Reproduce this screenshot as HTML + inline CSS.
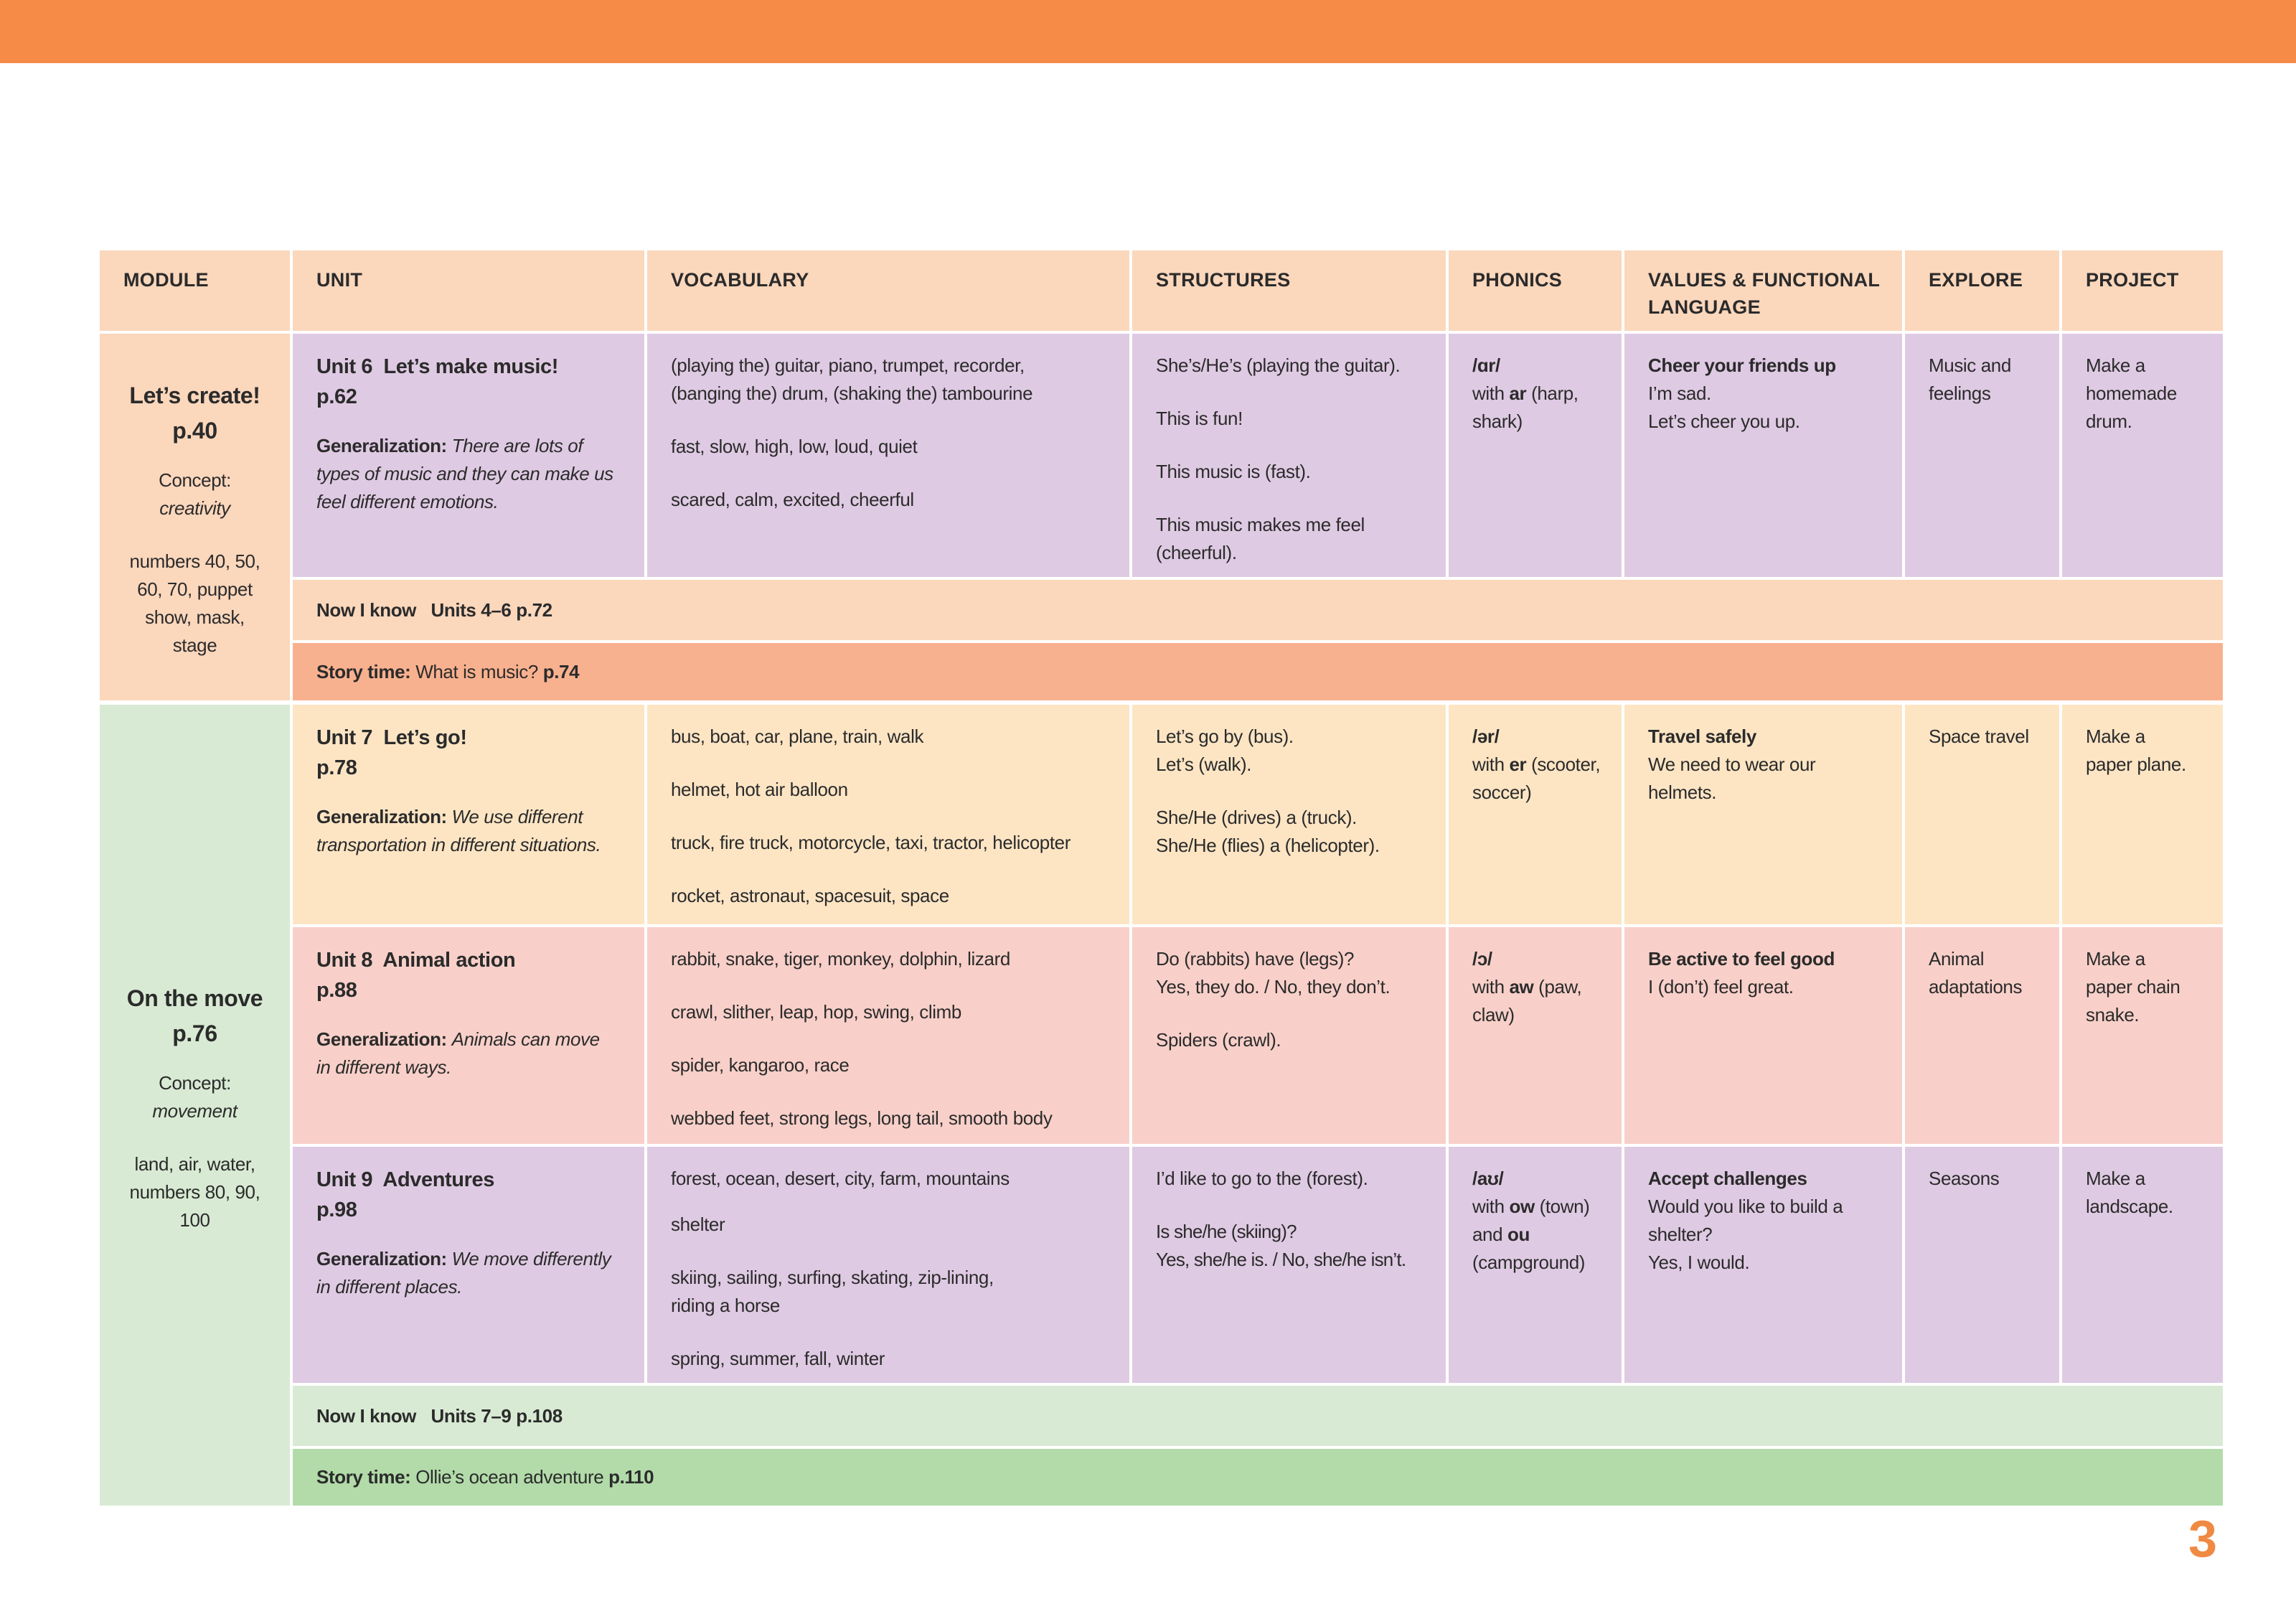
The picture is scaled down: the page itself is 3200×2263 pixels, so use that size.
<!DOCTYPE html>
<html><head><meta charset="utf-8">
<style>
html,body{margin:0;padding:0;background:#fff;}
body{width:3200px;height:2263px;position:relative;overflow:hidden;font-family:"Liberation Sans Narrow","Liberation Sans",sans-serif;color:#2b2b2b;font-size:26px;line-height:39px;letter-spacing:-0.4px;}
.c{position:absolute;box-sizing:border-box;padding:25px 16px 0 33px;}
.h{font-weight:bold;font-size:27px;line-height:38px;padding-top:22px;letter-spacing:0.3px;}
p{margin:0 0 35px 0;}
b{font-weight:bold;}
.t{font-weight:bold;font-size:29px;line-height:42px;}
.m{text-align:center;padding:62px 8px 0 8px;}
.m .big{font-weight:bold;font-size:32px;line-height:49px;}
.w{padding-top:0;display:flex;align-items:center;}
</style></head><body>
<div style="position:absolute;left:0;top:0;width:3200px;height:88px;background:#F68B47;"></div>

<div class="c h" style="left:139px;top:349px;width:265px;height:112px;background:#FBD7BC;">MODULE</div>
<div class="c h" style="left:408px;top:349px;width:490px;height:112px;background:#FBD7BC;">UNIT</div>
<div class="c h" style="left:902px;top:349px;width:672px;height:112px;background:#FBD7BC;">VOCABULARY</div>
<div class="c h" style="left:1578px;top:349px;width:437px;height:112px;background:#FBD7BC;">STRUCTURES</div>
<div class="c h" style="left:2019px;top:349px;width:241px;height:112px;background:#FBD7BC;">PHONICS</div>
<div class="c h" style="left:2264px;top:349px;width:387px;height:112px;background:#FBD7BC;padding-right:4px;">VALUES &amp; FUNCTIONAL LANGUAGE</div>
<div class="c h" style="left:2655px;top:349px;width:215px;height:112px;background:#FBD7BC;">EXPLORE</div>
<div class="c h" style="left:2874px;top:349px;width:224px;height:112px;background:#FBD7BC;">PROJECT</div>

<div class="c m" style="left:139px;top:465px;width:265px;height:511px;background:#FBD7BC;">
<div class="big">Let’s create!<br>p.40</div>
<div style="margin-top:25px">Concept:<br><i>creativity</i></div>
<div style="margin-top:35px">numbers 40, 50,<br>60, 70, puppet<br>show, mask,<br>stage</div>
</div>
<div class="c" style="left:408px;top:465px;width:490px;height:339px;background:#DFCAE3;"><div class="t" style="margin-bottom:28px">Unit 6&nbsp; Let’s make music!<br>p.62</div><div><b>Generalization:</b> <i>There are lots of<br>types of music and they can make us<br>feel different emotions.</i></div></div>
<div class="c" style="left:902px;top:465px;width:672px;height:339px;background:#DFCAE3;"><p>(playing the) guitar, piano, trumpet, recorder,<br>(banging the) drum, (shaking the) tambourine</p><p>fast, slow, high, low, loud, quiet</p><p>scared, calm, excited, cheerful</p></div>
<div class="c" style="left:1578px;top:465px;width:437px;height:339px;background:#DFCAE3;"><p>She’s/He’s (playing the guitar).</p><p>This is fun!</p><p>This music is (fast).</p><p>This music makes me feel<br>(cheerful).</p></div>
<div class="c" style="left:2019px;top:465px;width:241px;height:339px;background:#DFCAE3;"><b>/ɑr/</b><br>with <b>ar</b> (harp,<br>shark)</div>
<div class="c" style="left:2264px;top:465px;width:387px;height:339px;background:#DFCAE3;"><b>Cheer your friends up</b><br>I’m sad.<br>Let’s cheer you up.</div>
<div class="c" style="left:2655px;top:465px;width:215px;height:339px;background:#DFCAE3;">Music and<br>feelings</div>
<div class="c" style="left:2874px;top:465px;width:224px;height:339px;background:#DFCAE3;">Make a<br>homemade<br>drum.</div>
<div class="c w" style="left:408px;top:808px;width:2690px;height:84px;background:#FBD7BC;"><span><b>Now I know&nbsp;&nbsp; Units 4–6 p.72</b></span></div>
<div class="c w" style="left:408px;top:896px;width:2690px;height:80px;background:#F8B18F;"><span><b>Story time:</b> What is music? <b>p.74</b></span></div>

<div class="c m" style="left:139px;top:982px;width:265px;height:1116px;background:#D8EAD3;padding-top:385px;">
<div class="big">On the move<br>p.76</div>
<div style="margin-top:25px">Concept:<br><i>movement</i></div>
<div style="margin-top:35px">land, air, water,<br>numbers 80, 90,<br>100</div>
</div>
<div class="c" style="left:408px;top:982px;width:490px;height:306px;background:#FDE5C4;"><div class="t" style="margin-bottom:28px">Unit 7&nbsp; Let’s go!<br>p.78</div><div><b>Generalization:</b> <i>We use different<br>transportation in different situations.</i></div></div>
<div class="c" style="left:902px;top:982px;width:672px;height:306px;background:#FDE5C4;"><p>bus, boat, car, plane, train, walk</p><p>helmet, hot air balloon</p><p>truck, fire truck, motorcycle, taxi, tractor, helicopter</p><p>rocket, astronaut, spacesuit, space</p></div>
<div class="c" style="left:1578px;top:982px;width:437px;height:306px;background:#FDE5C4;"><p>Let’s go by (bus).<br>Let’s (walk).</p><p>She/He (drives) a (truck).<br>She/He (flies) a (helicopter).</p></div>
<div class="c" style="left:2019px;top:982px;width:241px;height:306px;background:#FDE5C4;padding-right:4px;"><b>/ər/</b><br>with <b>er</b> (scooter,<br>soccer)</div>
<div class="c" style="left:2264px;top:982px;width:387px;height:306px;background:#FDE5C4;"><b>Travel safely</b><br>We need to wear our<br>helmets.</div>
<div class="c" style="left:2655px;top:982px;width:215px;height:306px;background:#FDE5C4;">Space travel</div>
<div class="c" style="left:2874px;top:982px;width:224px;height:306px;background:#FDE5C4;">Make a<br>paper plane.</div>
<div class="c" style="left:408px;top:1292px;width:490px;height:302px;background:#F8D0C9;"><div class="t" style="margin-bottom:28px">Unit 8&nbsp; Animal action<br>p.88</div><div><b>Generalization:</b> <i>Animals can move<br>in different ways.</i></div></div>
<div class="c" style="left:902px;top:1292px;width:672px;height:302px;background:#F8D0C9;"><p>rabbit, snake, tiger, monkey, dolphin, lizard</p><p>crawl, slither, leap, hop, swing, climb</p><p>spider, kangaroo, race</p><p>webbed feet, strong legs, long tail, smooth body</p></div>
<div class="c" style="left:1578px;top:1292px;width:437px;height:302px;background:#F8D0C9;"><p>Do (rabbits) have (legs)?<br>Yes, they do. / No, they don’t.</p><p>Spiders (crawl).</p></div>
<div class="c" style="left:2019px;top:1292px;width:241px;height:302px;background:#F8D0C9;"><b>/ɔ/</b><br>with <b>aw</b> (paw,<br>claw)</div>
<div class="c" style="left:2264px;top:1292px;width:387px;height:302px;background:#F8D0C9;"><b>Be active to feel good</b><br>I (don’t) feel great.</div>
<div class="c" style="left:2655px;top:1292px;width:215px;height:302px;background:#F8D0C9;">Animal<br>adaptations</div>
<div class="c" style="left:2874px;top:1292px;width:224px;height:302px;background:#F8D0C9;">Make a<br>paper chain<br>snake.</div>
<div class="c" style="left:408px;top:1598px;width:490px;height:329px;background:#DFCAE3;"><div class="t" style="margin-bottom:28px">Unit 9&nbsp; Adventures<br>p.98</div><div><b>Generalization:</b> <i>We move differently<br>in different places.</i></div></div>
<div class="c" style="left:902px;top:1598px;width:672px;height:329px;background:#DFCAE3;"><p style="margin-bottom:25px">forest, ocean, desert, city, farm, mountains</p><p>shelter</p><p>skiing, sailing, surfing, skating, zip-lining,<br>riding a horse</p><p>spring, summer, fall, winter</p></div>
<div class="c" style="left:1578px;top:1598px;width:437px;height:329px;background:#DFCAE3;padding-right:4px;"><p>I’d like to go to the (forest).</p><p style="white-space:nowrap;letter-spacing:-0.8px">Is she/he (skiing)?<br>Yes, she/he is. / No, she/he isn’t.</p></div>
<div class="c" style="left:2019px;top:1598px;width:241px;height:329px;background:#DFCAE3;padding-right:4px;"><b>/aʊ/</b><br>with <b>ow</b> (town)<br>and <b>ou</b><br>(campground)</div>
<div class="c" style="left:2264px;top:1598px;width:387px;height:329px;background:#DFCAE3;"><b>Accept challenges</b><br>Would you like to build a<br>shelter?<br>Yes, I would.</div>
<div class="c" style="left:2655px;top:1598px;width:215px;height:329px;background:#DFCAE3;">Seasons</div>
<div class="c" style="left:2874px;top:1598px;width:224px;height:329px;background:#DFCAE3;">Make a<br>landscape.</div>
<div class="c w" style="left:408px;top:1931px;width:2690px;height:84px;background:#D8EAD3;"><span><b>Now I know&nbsp;&nbsp; Units 7–9 p.108</b></span></div>
<div class="c w" style="left:408px;top:2019px;width:2690px;height:79px;background:#B2DBA9;"><span><b>Story time:</b> Ollie’s ocean adventure <b>p.110</b></span></div>

<div style="position:absolute;left:3050px;top:2105px;font-weight:bold;font-size:72px;line-height:80px;color:#F08A43;">3</div>
</body></html>
